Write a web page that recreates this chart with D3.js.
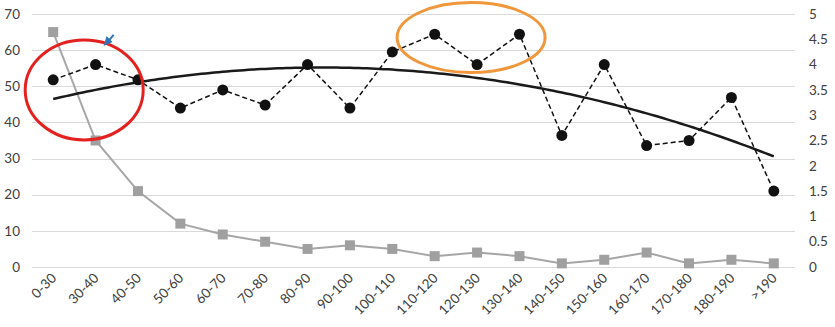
<!DOCTYPE html>
<html>
<head>
<meta charset="utf-8">
<script src="https://cdn.jsdelivr.net/npm/d3@7"></script>
<style>
  body { margin: 0; background: #fff; }
  text { font-family: Lato, "Open Sans", sans-serif; font-size: 13.5px; fill: #404040; }
</style>
</head>
<body>
<div id="chart"></div>
<script>
const categories = ["0-30", "30-40", "40-50", "50-60", "60-70", "70-80", "80-90", "90-100",
    "100-110", "110-120", "120-130", "130-140", "140-150", "150-160", "160-170", "170-180",
    "180-190", ">190"];
// grey series, left axis
const counts = [65, 35, 21, 12, 9, 7, 5, 6, 5, 3, 4, 3, 1, 2, 4, 1, 2, 1];
// black dashed series, right axis
const means = [3.7, 4, 3.7, 3.14, 3.5, 3.2, 4, 3.14, 4.25, 4.6, 4, 4.6, 2.6, 4, 2.4, 2.5, 3.35, 1.5];
const leftTicks = [0, 10, 20, 30, 40, 50, 60, 70];
const rightTicks = [0, 0.5, 1, 1.5, 2, 2.5, 3, 3.5, 4, 4.5, 5];

const width = 835, height = 327;
const svg = d3.select("#chart").append("svg")
    .attr("width", width)
    .attr("height", height);

const x = d3.scaleBand().domain(categories).range([32, 795]);
const cx = function(d) { return x(d) + x.bandwidth() / 2; };
const yL = d3.scaleLinear().domain([0, 70]).range([267, 14]);
const yR = d3.scaleLinear().domain([0, 5]).range([267, 14]);

// gridlines
svg.append("g")
    .selectAll("line")
    .data(leftTicks).enter()
    .append("line")
        .attr("x1", 32).attr("x2", 795)
        .attr("y1", function(d) { return Math.round(yL(d)) + 0.5; })
        .attr("y2", function(d) { return Math.round(yL(d)) + 0.5; })
        .style("stroke", "#d9d9d9");

// left axis labels
svg.append("g")
    .selectAll("text")
    .data(leftTicks).enter()
    .append("text")
        .attr("x", 20)
        .attr("y", function(d) { return yL(d); })
        .attr("dy", "0.35em")
        .attr("text-anchor", "end")
        .text(function(d) { return d; });

// right axis labels
svg.append("g")
    .selectAll("text")
    .data(rightTicks).enter()
    .append("text")
        .attr("x", 809)
        .attr("y", function(d) { return yR(d); })
        .attr("dy", "0.35em")
        .text(function(d) { return d; });

// x labels
svg.append("g")
    .selectAll("text")
    .data(categories).enter()
    .append("text")
        .attr("transform", function(d) { return `translate(${cx(d) + 4},279) rotate(-45)`; })
        .attr("text-anchor", "end")
        .text(function(d) { return d; });

// grey series
const grey = categories.map(function(c, i) { return [c, counts[i]]; });
svg.append("path")
    .datum(grey)
    .attr("d", d3.line().x(function(d) { return cx(d[0]); }).y(function(d) { return yL(d[1]); }))
    .style("fill", "none")
    .style("stroke", "#a6a6a6")
    .style("stroke-width", 2);
svg.append("g")
    .selectAll("rect")
    .data(grey).enter()
    .append("rect")
        .attr("x", function(d) { return cx(d[0]) - 5; })
        .attr("y", function(d) { return yL(d[1]) - 5; })
        .attr("width", 10).attr("height", 10)
        .style("fill", "#a0a0a0");

// quadratic trendline of the dashed series
function polyFit2(ys) {
    let s = [0, 0, 0, 0, 0], t = [0, 0, 0];
    ys.forEach(function(v, i) {
        const xi = i + 1;
        for (let k = 0; k < 5; k++) s[k] += Math.pow(xi, k);
        for (let k = 0; k < 3; k++) t[k] += v * Math.pow(xi, k);
    });
    const A = [[s[0], s[1], s[2], t[0]], [s[1], s[2], s[3], t[1]], [s[2], s[3], s[4], t[2]]];
    for (let i = 0; i < 3; i++) {
        for (let j = i + 1; j < 3; j++) {
            const f = A[j][i] / A[i][i];
            for (let k = i; k < 4; k++) A[j][k] -= f * A[i][k];
        }
    }
    const c = [0, 0, 0];
    for (let i = 2; i >= 0; i--) {
        let v = A[i][3];
        for (let k = i + 1; k < 3; k++) v -= A[i][k] * c[k];
        c[i] = v / A[i][i];
    }
    return c;
}
const coef = polyFit2(means);
const step = x.step();
const trend = d3.range(0, means.length - 1 + 0.001, 0.1).map(function(t) {
    const xi = t + 1;
    return [cx(categories[0]) + t * step, coef[0] + coef[1] * xi + coef[2] * xi * xi];
});
svg.append("path")
    .datum(trend)
    .attr("d", d3.line().x(function(d) { return d[0]; }).y(function(d) { return yR(d[1]); }))
    .style("fill", "none")
    .style("stroke", "#1a1a1a")
    .style("stroke-width", 2.5);

// dashed series
const black = categories.map(function(c, i) { return [c, means[i]]; });
svg.append("path")
    .datum(black)
    .attr("d", d3.line().x(function(d) { return cx(d[0]); }).y(function(d) { return yR(d[1]); }))
    .style("fill", "none")
    .style("stroke", "#111")
    .style("stroke-width", 1.5)
    .style("stroke-dasharray", "5,3");
svg.append("g")
    .selectAll("circle")
    .data(black).enter()
    .append("circle")
        .attr("cx", function(d) { return cx(d[0]); })
        .attr("cy", function(d) { return yR(d[1]); })
        .attr("r", 5.5)
        .style("fill", "#111");

// annotations
svg.append("ellipse")
    .attr("cx", cx("0-30") + 31).attr("cy", yL(49))
    .attr("rx", 59).attr("ry", 50)
    .style("fill", "none").style("stroke", "#e3211f").style("stroke-width", 3);
svg.append("ellipse")
    .attr("cx", cx("120-130") - 6).attr("cy", yL(63.5))
    .attr("rx", 74).attr("ry", 35)
    .style("fill", "none").style("stroke", "#f0973c").style("stroke-width", 3);

const ax = cx("30-40") + 12, ay = yL(62);
svg.append("path")
    .attr("d", `M${ax + 6},${ay - 8} L${ax + 1},${ay - 2}`)
    .style("stroke", "#2e75b6").style("stroke-width", 2);
svg.append("path")
    .attr("d", `M${ax - 4},${ay + 3} L${ax + 5},${ay - 1} L${ax - 1},${ay - 7} Z`)
    .style("fill", "#2e75b6");
</script>
</body>
</html>
